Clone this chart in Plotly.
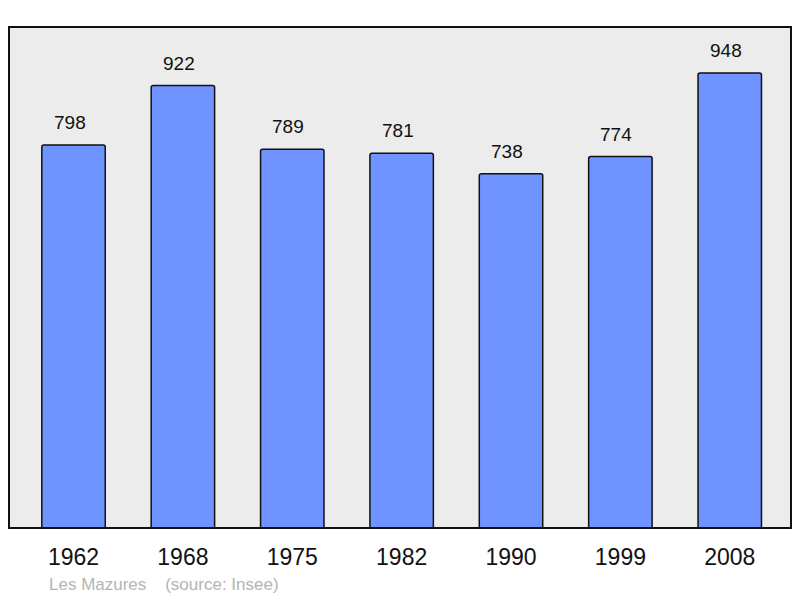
import plotly.graph_objects as go

# Population data
years = ["1962", "1968", "1975", "1982", "1990", "1999", "2008"]
population = [798, 922, 789, 781, 738, 774, 948]
commune = "Les Mazures"
source = "(source: Insee)"

fig = go.Figure()
fig.add_trace(go.Bar(
    x=years,
    y=population,
    width=0.58,
    marker=dict(color="#7094FF", line=dict(color="#111111", width=1.5), cornerradius=2),
    hoverinfo="x+y",
))

# value labels above each bar (index x, since years look numeric to the category axis)
for i, val in enumerate(population):
    fig.add_annotation(
        x=i, y=val, text=str(val), showarrow=False,
        yanchor="bottom", yshift=10, xshift=-4,
        font=dict(family="Liberation Sans, Arial", size=19, color="#111111"),
    )

fig.add_annotation(
    x=0.048, y=-0.112, xref="paper", yref="paper", xanchor="left", yanchor="middle",
    text=commune + "&nbsp;&nbsp;&nbsp;&nbsp;" + source, showarrow=False,
    font=dict(family="Liberation Sans, Arial", size=17, color="#b4b4b4"),
)

# plot frame
fig.add_shape(type="rect", xref="paper", yref="paper", x0=0, y0=0, x1=1, y1=1,
              line=dict(color="#111111", width=2), layer="above")

fig.update_layout(
    width=800, height=598,
    margin=dict(l=9, r=9, t=27, b=70),
    paper_bgcolor="white",
    plot_bgcolor="#ECECEC",
    showlegend=False,
    font=dict(family="Liberation Sans, Arial", color="#111111"),
    xaxis=dict(range=[-0.59, 6.56], showgrid=False, zeroline=False,
               ticks="outside", ticklen=8, tickcolor="rgba(0,0,0,0)",
               tickfont=dict(size=23, color="#111111")),
    yaxis=dict(range=[0, 1044], showgrid=False, zeroline=False, showticklabels=False),
)

# drop the default 8px page margin so the figure fills the window
fig.write_html("out.html", config={"displayModeBar": False},
               post_script="document.body.style.margin = '0';")
